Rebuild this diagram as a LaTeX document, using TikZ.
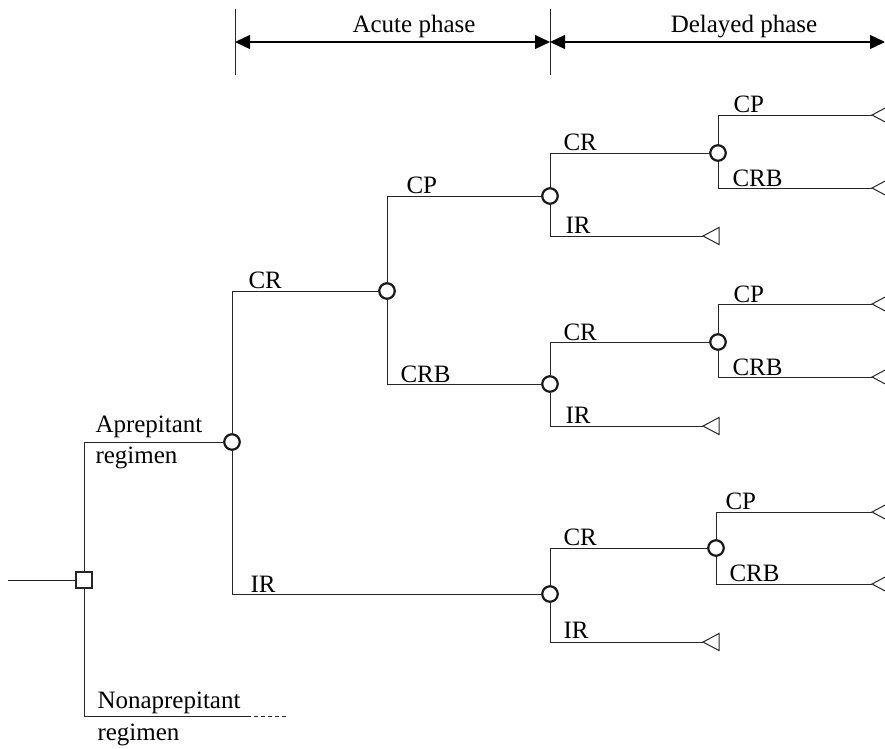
\documentclass[tikz,border=0pt]{standalone}
\usepackage{fontspec}
\setmainfont{Liberation Serif}
\usetikzlibrary{arrows.meta}
\begin{document}
\begin{tikzpicture}[x=1pt,y=-1pt,
  line width=1pt,
  ln/.style={draw=black!85, line width=1pt},
  chance/.style={circle, draw=black!90, line width=2.2pt, minimum size=15.5pt, inner sep=0pt, outer sep=0pt},
  decision/.style={rectangle, draw=black!85, line width=1.1pt, minimum size=16pt, inner sep=0pt, outer sep=0pt},
  lbl/.style={anchor=base west, inner sep=0pt, font=\fontsize{25}{29}\selectfont},
  hdr/.style={anchor=base, inner sep=0pt, font=\fontsize{25}{29}\selectfont},
  span/.style={draw=black, line width=1.3pt, {Triangle[length=15pt,width=14pt]}-{Triangle[length=15pt,width=14pt]}},
  term/.style={draw=black!85, line width=1pt}
]
\useasboundingbox (0,0) rectangle (885,748);
\clip (0,0) rectangle (885,748);

% header
\coordinate (V1t) at (235,9);  \coordinate (V1b) at (235,75);
\coordinate (V2t) at (550,9);  \coordinate (V2b) at (550,75);
\coordinate (A1) at (235,42);  \coordinate (A2) at (550,42);
\coordinate (A3) at (885,42);
\draw[ln] (V1t) -- (V1b);
\draw[ln] (V2t) -- (V2b);
\draw[span] (A1) -- (A2);
\draw[span] (A2) -- (A3);
\node[hdr] (hA) at (414,32) {Acute phase};
\node[hdr] (hD) at (744,32) {Delayed phase};

% nodes
\coordinate (S) at (8,580);
\node[decision] (D) at (84,580) {};
\node[chance] (C1) at (232,442) {};
\node[chance] (C2) at (387,291) {};
\node[chance] (C3) at (550,594) {};
\node[chance] (C4) at (550,196) {};
\node[chance] (C5) at (550,384) {};
\node[chance] (C6) at (718,153) {};
\node[chance] (C7) at (718,342) {};
\node[chance] (C8) at (716,548) {};
\coordinate (N1) at (247,716);
\coordinate (N2) at (288,716);

% terminal tips
\coordinate (T1) at (703,236);
\coordinate (T2) at (703,426);
\coordinate (T3) at (703,642);
\coordinate (R1) at (872,115);
\coordinate (R2) at (872,188);
\coordinate (R3) at (872,304);
\coordinate (R4) at (872,377);
\coordinate (R5) at (872,512);
\coordinate (R6) at (872,584);
\foreach \t in {T1,T2,T3,R1,R2,R3,R4,R5,R6}{
  \draw[term] (\t) -- ++(16,-8.5) -- ++(0,17) -- cycle;
}

% connectors
\draw[ln] (S) -- (D);
\draw[ln] (D.north) |- (C1);
\draw[ln] (D.south) |- (N1);
\draw[ln, dash pattern=on 4pt off 3pt] (N1) -- (N2);
\draw[ln] (C1.north) |- (C2);
\draw[ln] (C1.south) |- (C3);
\draw[ln] (C2.north) |- (C4);
\draw[ln] (C2.south) |- (C5);
\draw[ln] (C4.north) |- (C6);
\draw[ln] (C4.south) |- (T1);
\draw[ln] (C6.north) |- (R1);
\draw[ln] (C6.south) |- (R2);
\draw[ln] (C5.north) |- (C7);
\draw[ln] (C5.south) |- (T2);
\draw[ln] (C7.north) |- (R3);
\draw[ln] (C7.south) |- (R4);
\draw[ln] (C3.north) |- (C8);
\draw[ln] (C3.south) |- (T3);
\draw[ln] (C8.north) |- (R5);
\draw[ln] (C8.south) |- (R6);

% labels
\node[lbl] (lAp1) at (95,432) {Aprepitant};
\node[lbl] (lAp2) at (95,463) {regimen};
\node[lbl] (lNa1) at (97,708) {Nonaprepitant};
\node[lbl] (lNa2) at (97,740) {regimen};
\node[lbl] (l1) at (248,288) {CR};
\node[lbl] (l2) at (250,592) {IR};
\node[lbl] (l3) at (406,193) {CP};
\node[lbl] (l4) at (400,382) {CRB};
\node[lbl] (l5) at (563,150) {CR};
\node[lbl] (l6) at (565,233) {IR};
\node[lbl] (l7) at (733,112) {CP};
\node[lbl] (l8) at (732,186) {CRB};
\node[lbl] (l9) at (563,340) {CR};
\node[lbl] (l10) at (565,423) {IR};
\node[lbl] (l11) at (733,302) {CP};
\node[lbl] (l12) at (732,375) {CRB};
\node[lbl] (l13) at (563,545) {CR};
\node[lbl] (l14) at (563,638) {IR};
\node[lbl] (l15) at (725,509) {CP};
\node[lbl] (l16) at (729,581) {CRB};
\end{tikzpicture}
\end{document}
